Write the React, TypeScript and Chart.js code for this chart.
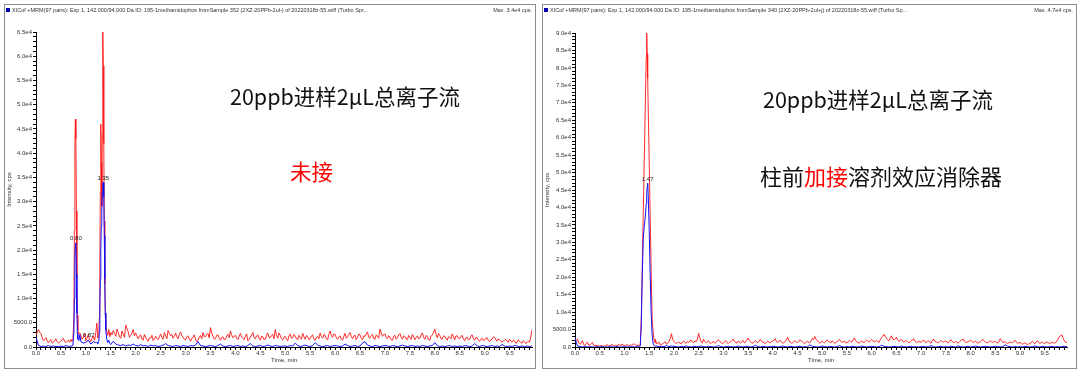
import React, { useEffect, useRef } from "react";
import { Chart, registerables } from "chart.js";
Chart.register(...registerables);

// Baseline sampling interval (min); values below are in thousands of cps.
const STEP_MIN = 0.05;
const X_MAX = 9.95;

// ---------- Left panel (Sample 352, 未接) ----------
// red at t = 0.00, 0.05, ... ; null where the peak table takes over
const leftRedBase = [
  2.4, 3.6, 2.8, 1.3, 1.9, 0.9, 1.5, 1.0, 1.7, 0.8,
  1.2, 1.8, 0.9, 1.4, 1.6, null, null, null, null, 2.0,
  1.3, 2.6, 1.1, 2.3, 3.0, null, null, null, null, null,
  null, 3.4, 2.2, 3.0, 1.8, 2.6, 4.5, 3.1, 2.4, 3.6,
  2.9, 1.7, 2.5, 1.4, 2.0, 1.2, 1.8, 1.3, 2.2, 1.5,
  2.7, 1.6, 2.4, 3.4, 2.3, 1.8, 2.9, 1.7, 3.1, 2.0,
  1.5, 2.3, 1.2, 2.0, 1.6, 1.3, 2.4, 3.0, 2.1, 2.8,
  4.0, 2.2, 1.7, 2.5, 1.4, 2.1, 1.6, 2.6, 3.3, 1.9,
  2.4, 1.5, 2.8, 1.8, 2.2, 1.3, 2.0, 3.0, 1.7, 2.5,
  1.4, 2.1, 1.6, 2.9, 1.9, 2.6, 3.6, 1.8, 2.4, 1.5,
  2.2, 1.3, 2.7, 1.9, 2.3, 1.5, 2.0, 2.8, 1.6, 2.1,
  1.7, 2.5, 1.4, 2.2, 2.9, 1.8, 2.4, 1.5, 3.3, 2.0,
  2.6, 1.6, 2.3, 1.4, 2.8, 2.1, 3.0, 1.7, 2.4, 1.9,
  2.5, 1.5, 2.2, 3.1, 1.8, 2.6, 1.6, 2.3, 3.7, 2.2,
  2.7, 1.7, 2.1, 1.4, 2.4, 1.9, 2.8, 1.6, 2.2, 1.5,
  2.0, 2.6, 1.5, 2.3, 1.8, 2.9, 1.6, 2.1, 1.4, 2.5,
  3.7, 1.9, 2.4, 1.6, 2.2, 1.4, 2.0, 2.7, 1.5, 2.3,
  1.7, 2.4, 1.3, 2.0, 1.6, 2.5, 1.4, 1.9, 1.2, 1.8,
  1.4, 1.9, 1.1, 1.6, 2.0, 1.2, 1.5, 1.0, 1.4, 1.2,
  1.6, 1.0, 1.3, 0.9, 1.2, 0.8, 1.1, 0.9, 1.0, 3.6,
];
// red at t = 0.025, 0.075, ...
const leftRedMid = [
  3.1, 3.0, 1.9, 1.6, 1.2, 1.3, 0.8, 1.3, 1.1, 1.0,
  1.5, 1.1, 1.2, 1.0, null, null, null, null, 1.6, 2.8,
  1.8, 1.5, 1.8, 1.4, null, null, null, null, null, null,
  2.5, 2.8, 3.7, 2.1, 3.3, 2.0, 3.8, 2.0, 2.9, 2.3,
  2.2, 2.3, 1.6, 2.6, 1.5, 1.9, 2.4, 1.6, 1.8, 2.1,
  1.9, 3.0, 1.7, 2.8, 2.6, 2.2, 2.1, 2.6, 2.4, 1.6,
  2.1, 1.7, 1.8, 2.5, 1.1, 2.0, 1.7, 2.2, 2.6, 1.9,
  2.9, 1.6, 2.4, 1.8, 2.0, 1.5, 2.3, 1.9, 2.5, 2.2,
  1.8, 2.2, 2.1, 1.5, 2.7, 1.6, 2.5, 1.9, 2.3, 1.8,
  2.2, 1.5, 2.4, 2.0, 2.4, 1.7, 2.4, 2.9, 1.7, 2.0,
  1.6, 2.3, 1.8, 2.6, 1.7, 2.4, 1.6, 2.1, 2.4, 1.5,
  2.3, 1.6, 2.0, 1.7, 2.2, 2.6, 1.7, 2.6, 2.4, 2.7,
  1.9, 2.1, 1.6, 2.2, 1.8, 2.6, 2.2, 2.3, 1.5, 2.7,
  1.8, 2.3, 2.7, 2.0, 2.4, 1.7, 2.5, 1.8, 2.9, 2.6,
  2.0, 2.3, 1.5, 2.2, 1.6, 2.5, 2.0, 2.3, 1.7, 2.4,
  1.6, 2.1, 1.9, 1.7, 2.5, 2.0, 2.4, 1.5, 2.2, 3.0,
  2.6, 2.8, 1.7, 2.3, 1.8, 2.1, 1.7, 2.1, 2.3, 1.8,
  2.2, 1.6, 1.9, 1.5, 2.3, 1.7, 2.0, 1.4, 1.6, 1.3,
  1.8, 1.3, 1.5, 2.1, 1.5, 1.7, 1.2, 1.3, 1.6, 1.0,
  1.2, 1.4, 0.8, 1.5, 0.9, 1.3, 0.7, 1.2, 2.0, null,
];
const leftBlueBase = [
  2.0, 0.3, 0.1, 0.2, 0.1, 0.3, 0.1, 0.2, 0.1, 0.1,
  0.2, 0.1, 0.3, 0.1, 0.2, null, null, null, null, 0.8,
  1.0, 1.4, 0.6, 1.1, 0.9, null, null, null, null, null,
  null, 1.2, 0.6, 0.4, 0.3, 0.5, 0.2, 0.4, 0.3, 0.6,
  0.3, 0.2, 0.5, 0.2, 0.3, 0.1, 0.4, 0.2, 0.3, 0.1,
  0.2, 0.4, 0.7, 0.3, 0.2, 0.1, 0.3, 0.2, 0.1, 0.3,
  0.2, 0.1, 0.3, 0.2, 0.4, 1.1, 0.3, 0.2, 0.1, 0.2,
  0.3, 0.2, 0.1, 0.3, 0.6, 0.2, 0.1, 0.2, 0.3, 0.1,
  0.2, 0.3, 0.1, 0.2, 0.1, 0.3, 0.7, 0.2, 0.1, 0.2,
  0.3, 0.1, 0.2, 0.4, 0.2, 0.1, 0.3, 0.2, 0.1, 0.2,
  0.2, 0.1, 0.3, 0.2, 0.8, 0.3, 0.1, 0.2, 0.4, 0.2,
  0.1, 0.3, 0.9, 0.4, 0.2, 0.1, 0.2, 0.3, 0.1, 0.2,
  0.3, 0.2, 0.1, 0.2, 0.6, 0.3, 0.1, 0.2, 0.3, 0.1,
  0.2, 0.8, 1.1, 0.4, 0.2, 0.1, 0.3, 0.2, 0.1, 0.2,
  0.3, 0.2, 0.1, 0.3, 0.2, 0.1, 0.2, 0.4, 0.2, 0.1,
  0.2, 0.3, 0.1, 0.2, 0.1, 0.3, 0.2, 0.1, 0.2, 0.3,
  0.9, 0.3, 0.1, 0.2, 0.1, 0.2, 0.3, 0.1, 0.2, 0.1,
  0.2, 0.1, 0.3, 0.2, 0.1, 0.2, 0.7, 0.2, 0.1, 0.3,
  0.2, 0.1, 0.2, 0.3, 0.1, 0.2, 0.1, 0.5, 0.2, 0.1,
  0.2, 0.1, 0.3, 0.2, 0.1, 0.2, 0.1, 0.2, 0.1, 0.2,
];
const leftPeakTimes = [
  0.72, 0.74, 0.76, 0.77, 0.78, 0.79, 0.8, 0.81, 0.82, 0.83, 0.84, 0.86, 0.88, 0.9,
  1.22, 1.24, 1.26, 1.27, 1.28, 1.29, 1.3, 1.31, 1.32, 1.33, 1.34, 1.35, 1.36, 1.37,
  1.38, 1.39, 1.4, 1.42, 1.44, 1.46, 1.48, 1.5,
];
const leftRedPeak = [
  1.1, 1.4, 6.0, 24, 41, 47, 43, 28, 14, 6.5, 3.5, 2.6, 2.9, 2.4,
  4.9, 1.8, 2.6, 6, 15, 32, 46, 38, 29, 44, 65, 58, 42, 26,
  13, 7, 4.5, 3.2, 2.4, 3.6, 2.1, 3.0,
];
const leftBluePeak = [
  0.2, 0.3, 3.0, 10, 18, 21, 21.5, 15, 7, 2.8, 1.6, 1.3, 2.5, 1.1,
  1.0, 0.6, 1.2, 3, 8, 14, 20, 25, 29, 32, 33.5, 34, 31, 23,
  14, 7, 3.5, 1.6, 0.9, 1.4, 0.7, 0.5,
];
const leftLabelTimes = [0.8, 0.88, 1.35];
const leftLabelValues = [21.5, 2.5, 34];
const leftLabelTexts = ["0.80", "0.87", "1.35"];
const leftLabelAligns = ["center", "left", "center"];

// ---------- Right panel (Sample 340, 加接) ----------
const rightRedBase = [
  1.9, 2.3, 0.8, 1.8, 0.4, 1.4, 0.5, 1.3, 0.4, 0.3,
  0.2, 0.4, 0.3, 0.6, 0.3, 0.8, 0.4, 0.3, 0.6, 0.9,
  0.4, 0.7, 0.3, 0.5, 0.9, 0.4, null, null, null, null,
  null, null, null, 0.9, 1.4, 0.7, 1.2, 0.8, 1.5, 3.8,
  1.6, 1.0, 1.4, 0.9, 1.7, 1.1, 1.3, 2.0, 1.2, 1.5,
  3.9, 1.6, 2.2, 1.2, 1.8, 1.0, 1.6, 1.3, 2.1, 1.4,
  1.2, 1.8, 1.0, 1.5, 2.3, 1.3, 1.7, 1.1, 1.9, 1.4,
  2.6, 1.5, 1.1, 1.8, 1.3, 2.2, 1.4, 1.0, 1.7, 1.2,
  1.6, 2.4, 1.3, 1.9, 1.1, 1.5, 2.8, 1.4, 1.2, 1.8,
  1.3, 2.1, 1.5, 1.0, 1.7, 1.2, 2.5, 3.0, 1.9, 1.1,
  1.6, 1.2, 2.0, 1.4, 1.8, 1.1, 1.5, 2.2, 1.3, 1.7,
  1.2, 1.9, 1.4, 2.6, 1.5, 1.1, 1.8, 1.3, 2.0, 1.4,
  2.2, 1.5, 1.9, 1.3, 2.7, 3.6, 2.4, 1.8, 3.2, 2.0,
  2.8, 1.6, 2.2, 1.4, 1.9, 1.2, 1.7, 2.4, 1.3, 1.6,
  1.4, 2.0, 1.2, 1.8, 1.1, 2.3, 1.5, 1.2, 1.9, 1.4,
  1.7, 1.2, 2.1, 1.4, 1.6, 1.1, 1.8, 2.3, 1.3, 1.5,
  2.0, 1.3, 1.7, 1.1, 1.5, 2.2, 1.4, 1.2, 1.8, 1.3,
  1.6, 1.1, 2.4, 1.3, 1.5, 1.0, 1.4, 1.2, 1.9, 1.1,
  1.3, 0.8, 1.2, 0.7, 1.0, 1.6, 0.9, 1.8, 1.1, 1.4,
  1.0, 1.5, 0.9, 1.3, 1.1, 1.7, 3.0, 3.4, 1.6, 1.2,
];
const rightRedMid = [
  2.0, 1.2, 1.1, 0.7, 0.9, 0.6, 0.9, 0.6, 0.5, 0.4,
  0.4, 0.2, 0.5, 0.4, 0.5, 0.3, 0.5, 0.7, 0.4, 0.5,
  0.5, 0.4, 0.6, 0.8, 0.5, 0.6, null, null, null, null,
  null, null, 2.2, 1.1, 0.6, 1.0, 1.5, 1.1, 2.4, 2.2,
  1.2, 1.3, 1.1, 1.5, 1.2, 1.6, 1.8, 1.4, 1.7, 2.3,
  2.6, 1.1, 1.6, 1.5, 1.2, 1.4, 1.1, 1.8, 1.6, 1.0,
  1.5, 1.3, 1.4, 1.9, 1.6, 1.1, 1.4, 1.6, 1.2, 1.9,
  1.9, 1.2, 1.5, 1.4, 1.7, 1.6, 1.2, 1.4, 1.3, 1.6,
  2.0, 1.5, 1.7, 1.4, 1.3, 2.0, 1.9, 1.1, 1.5, 1.4,
  1.6, 1.7, 1.2, 1.4, 1.3, 1.8, 2.1, 2.2, 1.4, 1.5,
  1.3, 1.7, 1.6, 1.2, 1.4, 1.3, 1.9, 1.6, 1.5, 1.2,
  1.5, 1.6, 2.0, 1.8, 1.2, 1.5, 1.4, 1.7, 1.6, 1.8,
  1.8, 1.6, 1.5, 2.1, 3.1, 2.9, 2.0, 2.5, 2.4, 2.3,
  2.0, 1.8, 1.7, 1.6, 1.5, 1.4, 2.1, 1.7, 1.4, 1.5,
  1.7, 1.5, 1.6, 1.3, 1.8, 1.7, 1.3, 1.6, 1.5, 1.6,
  1.4, 1.6, 1.6, 1.3, 1.3, 1.5, 2.0, 1.7, 1.4, 1.8,
  1.6, 1.5, 1.3, 1.4, 1.9, 1.7, 1.3, 1.5, 1.5, 1.6,
  1.3, 1.7, 1.8, 1.4, 1.2, 1.2, 1.3, 1.6, 1.4, 1.2,
  1.0, 1.0, 0.9, 0.9, 1.3, 1.2, 1.4, 1.4, 1.2, 1.1,
  1.3, 1.1, 1.2, 1.2, 1.4, 2.4, 3.3, 2.4, 1.4, null,
];
const rightBlueBase = [
  2.5, 0.3, 0.1, 0.0, 0.1, 0.0, 0.1, 0.0, 0.0, 0.1,
  0.0, 0.1, 0.0, 0.0, 0.1, 0.0, 0.0, 0.1, 0.0, 0.0,
  0.1, 0.0, 0.0, 0.1, 0.0, 0.1, null, null, null, null,
  null, null, null, 0.3, 0.1, 0.2, 0.1, 0.4, 0.1, 0.3,
  0.2, 0.1, 0.0, 0.2, 0.1, 0.3, 0.1, 0.0, 0.2, 0.1,
  0.1, 0.3, 0.1, 0.0, 0.2, 0.1, 0.0, 0.1, 0.4, 0.1,
  0.0, 0.1, 0.2, 0.1, 0.0, 0.1, 0.3, 0.1, 0.0, 0.2,
  0.1, 0.0, 0.1, 0.5, 0.1, 0.0, 0.2, 0.1, 0.0, 0.1,
  0.2, 0.1, 0.0, 0.1, 0.3, 0.1, 0.0, 0.2, 0.1, 0.0,
  0.1, 0.2, 0.0, 0.1, 0.0, 0.6, 0.2, 0.1, 0.0, 0.1,
  0.3, 0.1, 0.0, 0.2, 0.1, 0.0, 0.1, 0.4, 0.1, 0.0,
  0.1, 0.0, 0.2, 0.1, 0.0, 0.1, 0.3, 0.1, 0.0, 0.1,
  0.2, 0.1, 0.0, 0.1, 0.5, 0.2, 0.1, 0.0, 0.1, 0.2,
  0.1, 0.0, 0.3, 0.1, 0.0, 0.1, 0.2, 0.0, 0.1, 0.0,
  0.1, 0.2, 0.0, 0.1, 0.4, 0.1, 0.0, 0.1, 0.2, 0.0,
  0.1, 0.0, 0.2, 0.1, 0.0, 0.3, 0.1, 0.0, 0.1, 0.2,
  0.0, 0.1, 0.3, 0.1, 0.0, 0.1, 0.2, 0.1, 0.0, 0.1,
  0.2, 0.1, 0.0, 0.1, 0.6, 0.2, 0.1, 0.0, 0.1, 0.0,
  0.1, 0.0, 0.2, 0.1, 0.0, 0.1, 0.3, 0.1, 0.0, 0.2,
  0.1, 0.0, 0.1, 0.2, 0.0, 0.1, 0.0, 0.1, 0.2, 0.1,
];
const rightPeakTimes = [
  1.3, 1.32, 1.34, 1.36, 1.38, 1.4, 1.42, 1.44, 1.45, 1.46,
  1.47, 1.48, 1.5, 1.52, 1.54, 1.56, 1.58, 1.6, 1.62,
];
const rightRedPeak = [
  0.4, 0.6, 8, 23, 38, 53, 68, 83, 90, 84,
  77, 69, 54, 38, 22, 8, 4.2, 2.0, 1.2,
];
const rightBluePeak = [
  0.0, 0.3, 6, 20, 31, 34.5, 37, 41, 44, 46,
  47, 44, 34, 21, 10, 3.5, 1.0, 0.4, 0.2,
];
const rightLabelTimes = [1.47];
const rightLabelValues = [47];
const rightLabelTexts = ["1.47"];
const rightLabelAligns = ["center"];

const leftHeader =
  "XICof +MRM(97 pairs): Exp 1, 142.000/94.000 Da ID: 195-1methamidophos fromSample 352 (2XZ-20PPb-2ul-) of 20220318z-55.wiff (Turbo Spr...";
const rightHeader =
  "XICof +MRM(97 pairs): Exp 1, 142.000/94.000 Da ID: 195-1methamidophos fromSample 340 (2XZ-20PPb-2ul+j) of 20220318z-55.wiff (Turbo Sp...";
const leftMax = "Max. 3.4e4 cps.";
const rightMax = "Max. 4.7e4 cps.";

const TICK_FONT = { family: "'Liberation Sans', Arial, sans-serif", size: 6 };

function buildPoints(
  base: (number | null)[],
  mid: (number | null)[] | null,
  peakTimes: number[],
  peakVals: number[]
) {
  const pts: { x: number; y: number }[] = [];
  base.forEach((v, i) => {
    if (v !== null) pts.push({ x: Math.round(i * STEP_MIN * 1000) / 1000, y: v * 1000 });
  });
  if (mid) {
    mid.forEach((v, i) => {
      if (v !== null) pts.push({ x: Math.round((i + 0.5) * STEP_MIN * 1000) / 1000, y: v * 1000 });
    });
  }
  peakTimes.forEach((t, i) => pts.push({ x: t, y: peakVals[i] * 1000 }));
  pts.sort((a, b) => a.x - b.x);
  return pts;
}

function yLabel(v: number) {
  if (v === 0) return "0.0";
  if (v % 5000 !== 0) return "";
  if (v === 5000) return "5000.0";
  return (v / 10000).toFixed(1) + "e4";
}
function xLabel(v: number) {
  const r = Math.round(v * 10);
  return r % 5 === 0 ? (r / 10).toFixed(1) : "";
}

type PanelCfg = {
  boxLeft: number;
  boxWidth: number;
  padTop: number;
  padRight: number;
  yWidth: number;
  yMax: number;
  redBase: (number | null)[];
  redMid: (number | null)[];
  blueBase: (number | null)[];
  peakTimes: number[];
  redPeak: number[];
  bluePeak: number[];
  labelTimes: number[];
  labelValues: number[];
  labelTexts: string[];
  labelAligns: string[];
  header: string;
  max: string;
};

const BOX_H = 363;

function Panel({ cfg }: { cfg: PanelCfg }) {
  const ref = useRef<HTMLCanvasElement>(null);
  useEffect(() => {
    const peakLabels = {
      id: "peakLabels",
      afterDatasetsDraw(chart: any) {
        const ctx = chart.ctx;
        const xs = chart.scales.x;
        const ys = chart.scales.y;
        ctx.save();
        ctx.font = "6px 'Liberation Sans', Arial, sans-serif";
        ctx.fillStyle = "#222";
        ctx.textBaseline = "bottom";
        cfg.labelTimes.forEach((t, i) => {
          const px = xs.getPixelForValue(t);
          const py = ys.getPixelForValue(cfg.labelValues[i] * 1000);
          const al = cfg.labelAligns[i];
          ctx.textAlign = al === "left" ? "left" : "center";
          ctx.fillText(cfg.labelTexts[i], al === "left" ? px + 3 : px, al === "left" ? py + 3 : py - 1);
        });
        ctx.restore();
      },
    };
    const xTicks: number[] = [];
    for (let i = 0; i <= 99; i++) xTicks.push(i / 10);
    const chart = new Chart(ref.current!, {
      type: "line",
      data: {
        datasets: [
          {
            data: buildPoints(cfg.blueBase, null, cfg.peakTimes, cfg.bluePeak),
            borderColor: "#1010ff",
            borderWidth: 1,
            pointRadius: 0,
            tension: 0,
          },
          {
            data: buildPoints(cfg.redBase, cfg.redMid, cfg.peakTimes, cfg.redPeak),
            borderColor: "rgba(255,20,20,0.9)",
            borderWidth: 1,
            pointRadius: 0,
            tension: 0,
          },
        ],
      },
      options: {
        animation: false,
        responsive: false,
        devicePixelRatio: 1,
        parsing: false,
        normalized: true,
        layout: { padding: { top: cfg.padTop, right: cfg.padRight, left: 0, bottom: 0 } },
        plugins: { legend: { display: false }, tooltip: { enabled: false } },
        scales: {
          x: {
            type: "linear",
            min: 0,
            max: X_MAX,
            afterFit: (s: any) => {
              s.height = 21;
            },
            afterBuildTicks: (s: any) => {
              s.ticks = xTicks.map((v) => ({ value: v }));
            },
            ticks: {
              autoSkip: false,
              maxRotation: 0,
              minRotation: 0,
              padding: 0,
              font: TICK_FONT,
              color: "#333",
              callback: (v: any) => xLabel(Number(v)),
            },
            grid: { drawOnChartArea: false, drawTicks: true, tickLength: 3, color: "#000" },
            border: { display: true, color: "#000", width: 1 },
            title: {
              display: true,
              text: "Time, min",
              font: TICK_FONT,
              color: "#333",
              padding: { top: 0, bottom: 4 },
            },
          },
          y: {
            type: "linear",
            min: 0,
            max: cfg.yMax,
            afterFit: (s: any) => {
              s.width = cfg.yWidth;
            },
            ticks: {
              stepSize: 1000,
              autoSkip: false,
              padding: 1,
              font: TICK_FONT,
              color: "#333",
              callback: (v: any) => yLabel(Number(v)),
            },
            grid: { drawOnChartArea: false, drawTicks: true, tickLength: 3, color: "#000" },
            border: { display: true, color: "#000", width: 1 },
            title: {
              display: true,
              text: "Intensity, cps",
              font: TICK_FONT,
              color: "#333",
              padding: { top: 1, bottom: 0 },
            },
          },
        },
      },
      plugins: [peakLabels],
    } as any);
    return () => chart.destroy();
  }, []);
  return (
    <div
      style={{
        position: "absolute",
        left: cfg.boxLeft,
        top: 4,
        width: cfg.boxWidth,
        height: BOX_H,
        border: "1px solid #8c8c8c",
        background: "#fff",
      }}
    >
      <canvas
        ref={ref}
        width={cfg.boxWidth}
        height={BOX_H}
        style={{ position: "absolute", left: 0, top: 0, width: cfg.boxWidth, height: BOX_H }}
      />
      <div
        style={{
          position: "absolute",
          left: 1,
          top: 3,
          width: 4,
          height: 4,
          background: "#0000b0",
        }}
      />
      <div
        style={{
          position: "absolute",
          left: 7,
          top: 1,
          fontSize: "5.5px",
          lineHeight: "8px",
          fontFamily: "'Liberation Sans', Arial, sans-serif",
          color: "#333",
          whiteSpace: "nowrap",
        }}
      >
        {cfg.header}
      </div>
      <div
        style={{
          position: "absolute",
          right: 3,
          top: 1,
          fontSize: "5.5px",
          lineHeight: "8px",
          fontFamily: "'Liberation Sans', Arial, sans-serif",
          color: "#333",
          whiteSpace: "nowrap",
        }}
      >
        {cfg.max}
      </div>
    </div>
  );
}

const leftCfg: PanelCfg = {
  boxLeft: 4,
  boxWidth: 530,
  padTop: 27,
  padRight: 3,
  yWidth: 31,
  yMax: 65000,
  redBase: leftRedBase,
  redMid: leftRedMid,
  blueBase: leftBlueBase,
  peakTimes: leftPeakTimes,
  redPeak: leftRedPeak,
  bluePeak: leftBluePeak,
  labelTimes: leftLabelTimes,
  labelValues: leftLabelValues,
  labelTexts: leftLabelTexts,
  labelAligns: leftLabelAligns,
  header: leftHeader,
  max: leftMax,
};
const rightCfg: PanelCfg = {
  boxLeft: 542,
  boxWidth: 533,
  padTop: 28,
  padRight: 9,
  yWidth: 32,
  yMax: 90000,
  redBase: rightRedBase,
  redMid: rightRedMid,
  blueBase: rightBlueBase,
  peakTimes: rightPeakTimes,
  redPeak: rightRedPeak,
  bluePeak: rightBluePeak,
  labelTimes: rightLabelTimes,
  labelValues: rightLabelValues,
  labelTexts: rightLabelTexts,
  labelAligns: rightLabelAligns,
  header: rightHeader,
  max: rightMax,
};

const CJK = "'Noto Sans CJK SC', 'Noto Sans', sans-serif";
const noteStyle: React.CSSProperties = {
  position: "absolute",
  fontFamily: CJK,
  fontSize: 21.5,
  lineHeight: 1,
  color: "#111",
  whiteSpace: "nowrap",
};

export default function App() {
  return (
    <div
      style={{
        position: "absolute",
        left: 0,
        top: 0,
        width: 1080,
        height: 379,
        background: "#fff",
        overflow: "hidden",
      }}
    >
      <Panel cfg={leftCfg} />
      <Panel cfg={rightCfg} />
      <div style={{ ...noteStyle, left: 230, top: 85 }}>20ppb进样2μL总离子流</div>
      <div style={{ ...noteStyle, left: 290, top: 160, color: "#ff0000" }}>未接</div>
      <div style={{ ...noteStyle, left: 763, top: 88 }}>20ppb进样2μL总离子流</div>
      <div style={{ ...noteStyle, left: 760, top: 164, fontSize: 22 }}>
        柱前<span style={{ color: "#ff0000" }}>加接</span>溶剂效应消除器
      </div>
    </div>
  );
}
